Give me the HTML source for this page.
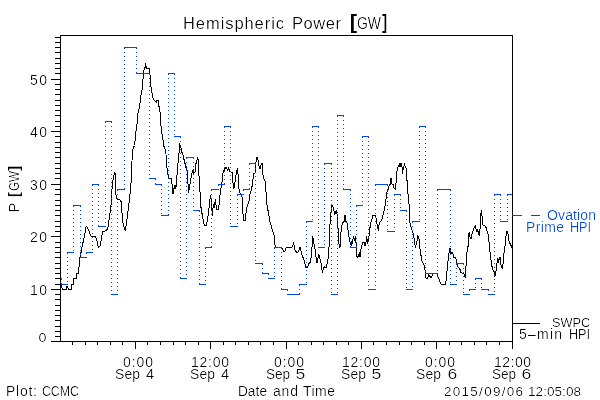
<!DOCTYPE html><html><head><meta charset="utf-8"><style>html,body{margin:0;padding:0;background:#fff;width:600px;height:400px;overflow:hidden}svg{display:block}text{font-family:"Liberation Sans",sans-serif}</style></head><body>
<svg width="600" height="400" viewBox="0 0 600 400">
<defs><filter id="th" x="-5%" y="-20%" width="110%" height="140%" color-interpolation-filters="sRGB"><feComponentTransfer><feFuncA type="gamma" amplitude="1" exponent="1.8" offset="0"/></feComponentTransfer></filter></defs>
<rect width="600" height="400" fill="#fff"/>
<polyline points="60.5,284.7 61.5,285.5 62.3,289.0 66.3,289.0 66.6,286.0 67.9,286.0 68.1,289.0 71.3,289.0 71.5,284.7 73.3,284.7 73.5,278.5 76.3,278.5 76.3,273.5 78.5,273.5 78.6,268.5 79.5,265.0 79.8,261.2 80.0,257.5 80.6,253.1 81.5,251.9 82.2,245.0 83.5,241.0 86.0,227.3 86.8,226.3 88.5,230.0 91.0,236.0 95.2,236.5 96.9,240.0 97.5,245.0 98.5,247.0 100.0,246.0 101.0,241.0 102.7,231.0 105.0,231.0 107.7,229.3 109.4,217.5 111.1,204.0 112.3,184.0 113.6,176.5 114.5,173.0 115.3,174.0 116.1,197.5 116.8,199.0 119.5,199.5 121.1,201.6 122.8,222.6 125.3,231.0 127.0,219.2 128.7,205.8 130.4,190.7 131.7,174.0 132.0,160.6 132.9,149.7 133.7,147.2 134.5,145.5 135.4,137.2 136.2,128.8 137.0,123.8 137.4,117.0 138.4,110.4 139.4,108.0 140.3,100.4 141.0,94.9 142.1,89.4 142.7,82.5 143.5,72.9 144.2,68.8 145.1,67.4 145.4,63.3 146.2,67.4 146.8,68.3 149.3,68.3 149.9,72.9 150.4,82.5 150.9,86.6 151.7,90.8 152.4,96.3 153.4,99.7 154.8,100.4 156.1,102.5 156.8,100.4 158.2,100.4 158.9,105.9 159.6,110.0 160.4,113.7 160.8,123.8 161.7,132.0 164.0,146.4 165.7,151.3 166.5,159.4 167.3,172.4 169.0,178.1 171.4,178.9 172.7,190.3 173.0,194.3 174.3,187.0 175.0,184.6 175.9,188.7 176.7,178.9 177.9,164.3 179.2,151.3 179.8,144.8 180.8,146.4 181.5,151.3 182.8,154.5 184.4,161.0 186.0,167.5 187.3,170.8 188.0,183.8 188.5,192.7 189.3,188.7 190.1,183.8 190.9,178.1 192.2,172.4 193.3,169.1 193.8,173.2 195.0,172.4 195.8,164.3 197.1,159.4 197.7,157.0 198.7,164.3 199.0,175.7 199.8,188.7 200.4,197.0 201.0,207.5 202.7,217.6 204.4,225.9 206.0,225.9 207.7,219.2 209.4,204.2 210.6,194.9 211.9,207.5 212.3,215.9 213.3,204.2 214.4,207.5 215.3,199.1 216.6,209.2 218.6,210.0 219.5,199.1 220.6,190.7 222.0,182.4 222.8,174.0 224.5,169.0 226.2,167.3 227.8,170.6 228.7,168.1 229.5,171.5 232.0,172.3 232.9,182.4 233.7,189.1 235.0,182.4 236.2,174.0 237.4,168.1 238.0,174.0 238.4,185.7 239.6,192.4 242.1,197.5 242.9,212.5 243.8,220.9 245.4,220.9 246.3,209.2 247.9,204.2 249.4,200.0 249.8,194.4 250.6,192.5 251.2,190.0 251.9,187.5 252.5,182.5 253.1,178.8 253.8,173.8 255.0,173.1 255.6,166.2 256.0,162.5 256.5,157.5 257.5,157.5 257.8,160.0 258.4,160.6 258.8,165.0 259.4,168.1 260.6,168.5 261.2,163.8 262.2,163.5 262.5,172.5 263.8,178.1 264.8,180.6 265.6,182.5 266.0,191.9 266.5,200.0 267.5,209.2 268.7,212.5 269.5,220.9 270.9,224.3 272.6,231.0 274.2,236.0 274.7,244.4 275.9,247.4 281.8,247.7 283.0,250.0 283.8,251.9 285.1,251.0 286.0,248.0 287.6,247.4 292.7,246.9 293.5,242.3 294.3,246.0 295.2,251.0 296.9,252.4 298.5,251.9 299.4,248.0 300.2,247.7 301.0,251.0 301.9,254.4 302.7,256.9 303.9,259.4 304.4,262.8 305.2,264.5 306.1,267.8 307.7,267.8 308.6,263.6 309.9,262.8 310.8,261.1 311.6,251.0 312.3,244.4 312.8,236.0 313.3,241.0 314.4,246.0 315.3,251.0 316.1,257.8 317.0,262.8 317.8,259.4 318.6,254.4 319.5,256.9 320.6,261.1 321.6,266.1 322.3,272.8 323.3,268.6 324.5,267.0 325.3,267.8 326.7,267.0 327.3,261.9 328.3,257.8 328.7,251.0 329.2,244.4 329.5,241.0 330.0,224.3 330.7,215.9 331.7,205.0 332.9,206.7 333.7,209.2 334.5,214.2 335.4,213.4 336.2,210.0 337.0,214.2 337.9,224.3 338.4,241.0 339.6,246.9 340.4,246.0 341.0,232.5 341.9,225.6 342.8,222.9 344.2,221.5 344.6,215.3 345.5,216.0 346.0,221.5 346.9,222.2 347.6,227.0 348.3,232.5 349.0,236.6 349.7,241.5 350.4,242.1 351.1,245.6 351.8,241.5 352.4,244.2 353.1,238.0 353.8,236.6 354.5,240.8 355.2,236.6 355.9,239.4 356.2,249.0 356.6,256.6 357.3,257.3 358.6,255.9 359.3,252.5 360.0,257.3 360.7,250.0 361.7,246.0 362.5,242.7 364.2,242.7 365.0,246.0 365.9,243.5 366.7,236.0 367.5,243.5 368.4,241.0 369.2,234.3 370.0,227.6 370.9,222.6 372.1,218.4 373.1,215.0 375.1,215.0 375.9,217.6 376.8,222.6 377.6,227.6 378.4,231.0 379.3,222.6 380.1,221.7 381.4,220.9 382.6,216.7 383.8,212.5 384.8,207.5 386.0,199.1 387.1,190.8 388.5,189.4 389.3,184.5 390.5,184.0 390.9,178.2 391.3,178.2 391.6,184.0 393.0,184.5 394.0,188.0 395.2,189.1 396.2,182.0 397.0,171.1 397.7,170.8 398.1,166.2 399.0,165.0 399.2,163.0 399.6,166.2 400.4,166.2 401.0,163.2 401.4,166.0 402.0,167.0 402.4,173.8 403.0,170.0 403.4,167.0 404.2,166.0 404.5,163.2 404.9,166.0 405.6,167.4 406.4,168.5 406.8,180.5 407.5,181.2 407.7,190.8 408.6,199.1 409.4,209.2 409.9,222.6 411.1,227.6 412.8,232.6 413.6,235.1 414.4,241.0 415.3,246.9 416.6,243.5 417.8,236.0 419.0,238.5 419.5,244.4 420.3,251.0 421.1,256.1 422.0,261.1 423.3,263.6 424.5,266.1 425.3,272.0 425.7,277.9 427.8,278.2 428.7,274.5 429.4,275.3 430.7,277.9 431.7,277.9 432.4,274.5 433.7,273.7 437.0,273.7 437.9,277.0 439.6,280.4 440.4,283.7 442.1,284.2 445.4,284.2 446.3,279.5 446.7,274.5 447.5,266.1 448.4,257.8 449.2,251.0 450.0,248.5 450.9,253.6 451.7,252.7 452.6,252.7 453.4,256.1 454.2,257.8 455.1,256.9 455.9,258.6 456.8,262.8 457.6,266.1 458.8,267.8 460.1,269.5 460.9,272.8 463.5,273.2 464.8,276.2 465.1,277.9 465.6,272.8 466.5,257.8 467.1,251.0 468.1,246.0 468.5,236.0 469.3,231.8 469.8,236.8 471.0,239.3 471.8,235.1 472.7,231.8 473.5,229.3 474.3,226.8 475.2,226.0 476.0,229.3 476.9,231.8 477.7,230.1 478.5,232.6 479.4,236.0 480.2,227.6 480.7,215.9 481.4,210.0 481.9,213.4 482.4,224.3 483.2,225.1 483.9,225.9 484.9,225.9 486.1,227.6 486.9,231.0 487.7,232.6 488.6,236.0 488.9,241.0 489.4,246.0 490.3,254.4 491.1,261.1 491.9,266.1 492.8,269.5 493.9,271.2 494.9,276.2 495.6,274.5 496.6,266.1 497.8,257.8 498.6,262.8 499.5,257.8 500.3,257.8 501.1,266.1 502.3,267.8 503.3,262.8 504.2,251.0 505.0,246.0 505.3,241.0 506.2,234.3 506.7,231.8 507.8,231.8 508.3,236.0 509.0,241.0 510.4,244.4 511.7,246.9 512.0,246.0" stroke="#000" stroke-width="1" fill="none" shape-rendering="crispEdges"/>
<path d="M61.5 278.5V284.5M67.5 252.5V284.5M73.5 205.5V252.5M80.5 205.5V257.5M86.5 252.5V257.5M92.5 184.5V252.5M98.5 184.5V226.5M105.5 121.5V226.5M111.5 121.5V294.5M117.5 189.5V294.5M124.5 47.5V189.5M136.5 47.5V73.5M149.5 73.5V178.5M155.5 178.5V184.5M161.5 184.5V215.5M168.5 73.5V215.5M174.5 73.5V136.5M180.5 136.5V278.5M186.5 157.5V278.5M193.5 157.5V210.5M199.5 210.5V284.5M205.5 247.5V284.5M211.5 189.5V247.5M218.5 184.5V189.5M224.5 126.5V184.5M230.5 126.5V226.5M237.5 194.5V226.5M243.5 189.5V194.5M249.5 163.5V189.5M255.5 163.5V263.5M262.5 263.5V273.5M268.5 273.5V278.5M274.5 247.5V278.5M281.5 247.5V289.5M287.5 289.5V294.5M299.5 284.5V294.5M306.5 221.5V284.5M312.5 126.5V221.5M318.5 126.5V247.5M324.5 163.5V247.5M331.5 163.5V294.5M337.5 115.5V294.5M343.5 115.5V189.5M350.5 189.5V247.5M356.5 205.5V247.5M362.5 136.5V205.5M368.5 136.5V289.5M375.5 184.5V289.5M387.5 184.5V231.5M394.5 194.5V231.5M400.5 194.5V210.5M406.5 210.5V289.5M412.5 221.5V289.5M419.5 126.5V221.5M425.5 126.5V273.5M437.5 189.5V273.5M450.5 189.5V284.5M456.5 263.5V284.5M463.5 263.5V294.5M469.5 289.5V294.5M475.5 278.5V289.5M481.5 278.5V289.5M488.5 289.5V294.5M494.5 194.5V294.5M500.5 194.5V221.5M507.5 194.5V221.5" stroke="#0046f0" stroke-width="1" stroke-dasharray="1 3" fill="none" shape-rendering="crispEdges"/>
<path d="M60.5 278.5H62.0M61.0 284.5H68.0M67.0 252.5H74.0M73.0 205.5H81.0M80.0 257.5H87.0M86.0 252.5H93.0M92.0 184.5H99.0M98.0 226.5H106.0M105.0 121.5H112.0M111.0 294.5H118.0M117.0 189.5H125.0M124.0 47.5H131.0M130.0 47.5H137.0M136.0 73.5H143.0M142.0 73.5H150.0M149.0 178.5H156.0M155.0 184.5H162.0M161.0 215.5H169.0M168.0 73.5H175.0M174.0 136.5H181.0M180.0 278.5H187.0M186.0 157.5H194.0M193.0 210.5H200.0M199.0 284.5H206.0M205.0 247.5H212.0M211.0 189.5H219.0M218.0 184.5H225.0M224.0 126.5H231.0M230.0 226.5H238.0M237.0 194.5H244.0M243.0 189.5H250.0M249.0 163.5H256.0M255.0 263.5H263.0M262.0 273.5H269.0M268.0 278.5H275.0M274.0 247.5H282.0M281.0 289.5H288.0M287.0 294.5H294.0M293.0 294.5H300.0M299.0 284.5H307.0M306.0 221.5H313.0M312.0 126.5H319.0M318.0 247.5H325.0M324.0 163.5H332.0M331.0 294.5H338.0M337.0 115.5H344.0M343.0 189.5H351.0M350.0 247.5H357.0M356.0 205.5H363.0M362.0 136.5H369.0M368.0 289.5H376.0M375.0 184.5H382.0M381.0 184.5H388.0M387.0 231.5H395.0M394.0 194.5H401.0M400.0 210.5H407.0M406.0 289.5H413.0M412.0 221.5H420.0M419.0 126.5H426.0M425.0 273.5H432.0M431.0 273.5H438.0M437.0 189.5H445.0M444.0 189.5H451.0M450.0 284.5H457.0M456.0 263.5H464.0M463.0 294.5H470.0M469.0 289.5H476.0M475.0 278.5H482.0M481.0 289.5H489.0M488.0 294.5H495.0M494.0 194.5H501.0M500.0 221.5H508.0M507.0 194.5H512.0" stroke="#0046f0" stroke-width="1" fill="none" shape-rendering="crispEdges"/>
<path d="M60.5 35.5H512.5V341.5H60.5Z" stroke="#000" stroke-width="1" fill="none" shape-rendering="crispEdges"/>
<path d="M51 341.5H60M55 336.5H60M55 331.5H60M55 326.5H60M55 320.5H60M55 315.5H60M55 310.5H60M55 305.5H60M55 299.5H60M55 294.5H60M51 289.5H60M55 284.5H60M55 278.5H60M55 273.5H60M55 268.5H60M55 263.5H60M55 257.5H60M55 252.5H60M55 247.5H60M55 242.5H60M51 236.5H60M55 231.5H60M55 226.5H60M55 221.5H60M55 215.5H60M55 210.5H60M55 205.5H60M55 200.5H60M55 194.5H60M55 189.5H60M51 184.5H60M55 178.5H60M55 173.5H60M55 168.5H60M55 163.5H60M55 157.5H60M55 152.5H60M55 147.5H60M55 142.5H60M55 136.5H60M51 131.5H60M55 126.5H60M55 121.5H60M55 115.5H60M55 110.5H60M55 105.5H60M55 100.5H60M55 94.5H60M55 89.5H60M55 84.5H60M51 79.5H60M55 73.5H60M55 68.5H60M55 63.5H60M55 58.5H60M55 52.5H60M55 47.5H60M55 42.5H60M55 37.5H60M72.5 341V345M85.5 341V345M97.5 341V345M110.5 341V345M122.5 341V345M135.5 341V349M147.5 341V345M160.5 341V345M173.5 341V345M185.5 341V345M198.5 341V345M210.5 341V349M223.5 341V345M235.5 341V345M248.5 341V345M260.5 341V345M273.5 341V345M286.5 341V349M298.5 341V345M311.5 341V345M323.5 341V345M336.5 341V345M348.5 341V345M361.5 341V349M373.5 341V345M386.5 341V345M399.5 341V345M411.5 341V345M424.5 341V345M436.5 341V349M449.5 341V345M461.5 341V345M474.5 341V345M486.5 341V345M499.5 341V345M512.5 341V349" stroke="#000" stroke-width="1" fill="none" shape-rendering="crispEdges"/>
<g filter="url(#th)">
<text x="183.0" y="29" font-size="16.5" textLength="101.0" lengthAdjust="spacing" fill="#000">Hemispheric</text>
<text x="292.0" y="29" font-size="16.5" textLength="49.0" lengthAdjust="spacing" fill="#000">Power</text>
<text x="349.77" y="29.2" font-size="19.4" font-weight="bold" textLength="7.41" lengthAdjust="spacingAndGlyphs" fill="#000">[</text>
<text x="356.95" y="29" font-size="16.5" textLength="24.05" lengthAdjust="spacingAndGlyphs" fill="#000">GW</text>
<text x="382.0" y="29.2" font-size="19.4" font-weight="bold" textLength="5.33" lengthAdjust="spacingAndGlyphs" fill="#000">]</text>
<text x="123.0" y="367" font-size="14" textLength="30.0" lengthAdjust="spacing" fill="#000">0:00</text>
<text x="115.0" y="379" font-size="14" textLength="25.0" lengthAdjust="spacing" fill="#000">Sep</text>
<text x="146.0" y="379" font-size="14" textLength="8.17" lengthAdjust="spacingAndGlyphs" fill="#000">4</text>
<text x="191.0" y="367" font-size="14" textLength="38.0" lengthAdjust="spacing" fill="#000">12:00</text>
<text x="190.0" y="379" font-size="14" textLength="25.0" lengthAdjust="spacing" fill="#000">Sep</text>
<text x="221.0" y="379" font-size="14" textLength="8.17" lengthAdjust="spacingAndGlyphs" fill="#000">4</text>
<text x="274.0" y="367" font-size="14" textLength="30.0" lengthAdjust="spacing" fill="#000">0:00</text>
<text x="265.9" y="379" font-size="14" textLength="24.2" lengthAdjust="spacingAndGlyphs" fill="#000">Sep</text>
<text x="295.6" y="379" font-size="14" textLength="9.8" lengthAdjust="spacingAndGlyphs" fill="#000">5</text>
<text x="342.0" y="367" font-size="14" textLength="38.0" lengthAdjust="spacing" fill="#000">12:00</text>
<text x="341.0" y="379" font-size="14" textLength="25.0" lengthAdjust="spacing" fill="#000">Sep</text>
<text x="371.6" y="379" font-size="14" textLength="9.8" lengthAdjust="spacingAndGlyphs" fill="#000">5</text>
<text x="425.0" y="367" font-size="14" textLength="30.0" lengthAdjust="spacing" fill="#000">0:00</text>
<text x="416.0" y="379" font-size="14" textLength="25.0" lengthAdjust="spacing" fill="#000">Sep</text>
<text x="447.6" y="379" font-size="14" textLength="9.8" lengthAdjust="spacingAndGlyphs" fill="#000">6</text>
<text x="494.0" y="367" font-size="14" textLength="37.0" lengthAdjust="spacing" fill="#000">12:00</text>
<text x="491.9" y="379" font-size="14" textLength="24.2" lengthAdjust="spacingAndGlyphs" fill="#000">Sep</text>
<text x="521.6" y="379" font-size="14" textLength="9.8" lengthAdjust="spacingAndGlyphs" fill="#000">6</text>
<text x="237.92" y="396" font-size="14" textLength="29.16" lengthAdjust="spacingAndGlyphs" fill="#000">Date</text>
<text x="273.0" y="396" font-size="14" textLength="25.0" lengthAdjust="spacing" fill="#000">and</text>
<text x="303.0" y="396" font-size="14" textLength="32.0" lengthAdjust="spacing" fill="#000">Time</text>
<text x="6.0" y="396" font-size="14" textLength="31.0" lengthAdjust="spacing" fill="#000">Plot:</text>
<text x="41.94" y="396" font-size="14" textLength="37.12" lengthAdjust="spacingAndGlyphs" fill="#000">CCMC</text>
<text x="444.0" y="396" font-size="13.5" textLength="79.0" lengthAdjust="spacing" fill="#000">2015/09/06</text>
<text x="528.0" y="396" font-size="13.5" textLength="53.0" lengthAdjust="spacing" fill="#000">12:05:08</text>
<text x="547.0" y="220" font-size="14" textLength="49.0" lengthAdjust="spacing" fill="#0046f0">Ovation</text>
<text x="526.0" y="232" font-size="14" textLength="38.0" lengthAdjust="spacing" fill="#0046f0">Prime</text>
<text x="569.88" y="232" font-size="14" textLength="21.24" lengthAdjust="spacingAndGlyphs" fill="#0046f0">HPI</text>
<text x="551.94" y="327" font-size="13.5" textLength="38.12" lengthAdjust="spacingAndGlyphs" fill="#000">SWPC</text>
<text x="519.0" y="339" font-size="14" textLength="43.0" lengthAdjust="spacing" fill="#000">5–min</text>
<text x="568.88" y="339" font-size="14" textLength="21.24" lengthAdjust="spacingAndGlyphs" fill="#000">HPI</text>
<text x="30.0" y="294.7" font-size="14" textLength="17.0" lengthAdjust="spacing" fill="#000">10</text>
<text x="30.0" y="241.7" font-size="14" textLength="17.0" lengthAdjust="spacing" fill="#000">20</text>
<text x="30.0" y="189.7" font-size="14" textLength="17.0" lengthAdjust="spacing" fill="#000">30</text>
<text x="30.0" y="136.7" font-size="14" textLength="17.0" lengthAdjust="spacing" fill="#000">40</text>
<text x="30.0" y="84.7" font-size="14" textLength="17.0" lengthAdjust="spacing" fill="#000">50</text>
<text x="38.54" y="342" font-size="13.5" textLength="7.95" lengthAdjust="spacingAndGlyphs" fill="#000">0</text>
<text transform="translate(19,0) rotate(-90)" x="-212.40" y="0" font-size="14.5" textLength="9.8" lengthAdjust="spacingAndGlyphs">P</text>
<text transform="translate(19,0) rotate(-90)" x="-197.33" y="0" font-size="14.5" font-weight="bold" textLength="5.33" lengthAdjust="spacingAndGlyphs">[</text>
<text transform="translate(19,0) rotate(-90)" x="-191.06" y="0" font-size="14.5" textLength="20.06" lengthAdjust="spacingAndGlyphs">GW</text>
<text transform="translate(19,0) rotate(-90)" x="-171.00" y="0" font-size="14.5" font-weight="bold" textLength="5.33" lengthAdjust="spacingAndGlyphs">]</text>
</g>
<path d="M512 215.5H522M531 215.5H540" stroke="#0046f0" stroke-width="1" fill="none" shape-rendering="crispEdges"/>
<path d="M512 323.5H540" stroke="#000" stroke-width="1" fill="none" shape-rendering="crispEdges"/>
</svg></body></html>
